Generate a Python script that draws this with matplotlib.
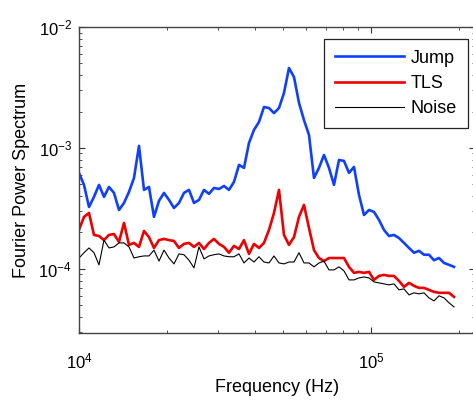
import numpy as np
import matplotlib
matplotlib.use("Agg")
import matplotlib.pyplot as plt
from matplotlib.ticker import LogLocator, FuncFormatter, NullFormatter

plt.rcParams['font.family'] = ['Liberation Sans', 'DejaVu Sans']
plt.rcParams['mathtext.fontset'] = 'custom'
plt.rcParams['mathtext.rm'] = 'Liberation Sans'
plt.rcParams['mathtext.default'] = 'regular'

# frequency (Hz)
freq = [10000, 10402, 10820, 11255, 11708, 12178, 12668, 13178, 13707, 14258,
        14831, 15428, 16048, 16693, 17365, 18063, 18789, 19545, 20331, 21148,
        21999, 22883, 23803, 24760, 25756, 26792, 27869, 28990, 30155, 31368,
        32629, 33941, 35306, 36726, 38203, 39739, 41337, 42999, 44728, 46527,
        48398, 50344, 52368, 54474, 56665, 58943, 61314, 63779, 66344, 69012,
        71787, 74674, 77677, 80800, 84049, 87429, 90945, 94602, 98405, 102362,
        106479, 110761, 115214, 119847, 124667, 129680, 134895, 140319, 145961, 151831,
        157936, 164287, 170893, 177828, 184979, 192418]

jump = [6.22e-4, 4.95e-4, 3.25e-4, 3.94e-4, 4.95e-4, 3.94e-4, 4.76e-4, 4.25e-4, 3.07e-4, 3.51e-4,
        4.33e-4, 5.65e-4, 1.04e-3, 4.50e-4, 4.76e-4, 2.69e-4, 3.65e-4, 4.25e-4, 3.72e-4, 3.19e-4,
        3.51e-4, 4.25e-4, 4.50e-4, 3.51e-4, 3.72e-4, 4.50e-4, 4.17e-4, 4.67e-4, 4.58e-4, 4.85e-4,
        4.50e-4, 5.24e-4, 7.24e-4, 6.84e-4, 1.10e-3, 1.41e-3, 1.64e-3, 2.18e-3, 2.14e-3, 1.94e-3,
        2.14e-3, 2.85e-3, 4.58e-3, 3.86e-3, 2.36e-3, 1.70e-3, 1.28e-3, 5.65e-4, 6.84e-4, 8.75e-4,
        6.84e-4, 4.95e-4, 7.96e-4, 7.81e-4, 6.22e-4, 6.97e-4, 4.09e-4, 2.79e-4, 3.07e-4, 2.96e-4,
        2.54e-4, 2.10e-4, 1.87e-4, 1.91e-4, 1.80e-4, 1.64e-4, 1.49e-4, 1.36e-4, 1.41e-4, 1.31e-4,
        1.31e-4, 1.18e-4, 1.23e-4, 1.12e-4, 1.08e-4, 1.04e-4]

tls = [2.10e-4, 2.69e-4, 2.90e-4, 1.91e-4, 1.87e-4, 1.73e-4, 1.91e-4, 1.94e-4, 1.67e-4, 2.40e-4,
       1.58e-4, 1.64e-4, 1.52e-4, 2.06e-4, 1.83e-4, 1.49e-4, 1.73e-4, 1.77e-4, 1.73e-4, 1.70e-4,
       1.49e-4, 1.61e-4, 1.64e-4, 1.52e-4, 1.64e-4, 1.46e-4, 1.64e-4, 1.77e-4, 1.61e-4, 1.52e-4,
       1.36e-4, 1.55e-4, 1.46e-4, 1.73e-4, 1.33e-4, 1.61e-4, 1.49e-4, 1.64e-4, 2.10e-4, 2.90e-4,
       4.50e-4, 1.91e-4, 1.58e-4, 1.83e-4, 2.69e-4, 3.38e-4, 2.18e-4, 1.43e-4, 1.23e-4, 1.16e-4,
       1.23e-4, 1.23e-4, 1.23e-4, 1.23e-4, 1.04e-4, 9.27e-5, 9.45e-5, 9.27e-5, 9.45e-5, 8.11e-5,
       8.75e-5, 8.92e-5, 8.75e-5, 8.75e-5, 7.96e-5, 7.10e-5, 7.66e-5, 7.24e-5, 6.97e-5, 6.97e-5,
       6.71e-5, 6.46e-5, 6.34e-5, 6.34e-5, 6.34e-5, 5.87e-5]

noise = [1.23e-4, 1.36e-4, 1.49e-4, 1.36e-4, 1.08e-4, 1.73e-4, 1.49e-4, 1.52e-4, 1.64e-4, 1.64e-4,
         1.52e-4, 1.23e-4, 1.26e-4, 1.28e-4, 1.28e-4, 1.43e-4, 1.16e-4, 1.43e-4, 1.23e-4, 1.10e-4,
         1.33e-4, 1.31e-4, 1.18e-4, 1.02e-4, 1.52e-4, 1.21e-4, 1.28e-4, 1.31e-4, 1.33e-4, 1.28e-4,
         1.26e-4, 1.26e-4, 1.33e-4, 1.12e-4, 1.23e-4, 1.14e-4, 1.26e-4, 1.14e-4, 1.12e-4, 1.28e-4,
         1.12e-4, 1.10e-4, 1.14e-4, 1.14e-4, 1.36e-4, 1.12e-4, 1.12e-4, 1.04e-4, 1.12e-4, 1.16e-4,
         9.81e-5, 9.81e-5, 1.04e-4, 9.63e-5, 8.11e-5, 8.11e-5, 8.42e-5, 8.58e-5, 8.42e-5, 7.81e-5,
         7.66e-5, 7.52e-5, 7.38e-5, 7.52e-5, 6.71e-5, 6.84e-5, 6.10e-5, 6.34e-5, 6.22e-5, 6.34e-5,
         5.76e-5, 5.44e-5, 5.99e-5, 5.76e-5, 5.24e-5, 4.85e-5]

fig = plt.figure(figsize=(4.73, 4.07), dpi=100)
ax = fig.add_axes([79/473, 1-333/407, 396/473, 306/407])

ax.plot(freq, jump, color='#1040ff', lw=1.9, label='Jump')
ax.plot(freq, tls, color='#ee0000', lw=1.9, label='TLS')
ax.plot(freq, noise, color='black', lw=0.8, label='Noise')

ax.set_xscale('log')
ax.set_yscale('log')
ax.set_xlim(1e4, 2.27e5)
ax.set_ylim(10**-4.53, 1e-2)

fmt = FuncFormatter(lambda v, p: '$10^{%d}$' % int(round(np.log10(v))))
ax.xaxis.set_major_locator(LogLocator(base=10))
ax.yaxis.set_major_locator(LogLocator(base=10))
ax.xaxis.set_major_formatter(fmt)
ax.yaxis.set_major_formatter(fmt)
ax.xaxis.set_minor_locator(LogLocator(base=10, subs=np.arange(2, 10)))
ax.yaxis.set_minor_locator(LogLocator(base=10, subs=np.arange(2, 10)))
ax.xaxis.set_minor_formatter(NullFormatter())
ax.yaxis.set_minor_formatter(NullFormatter())

ax.tick_params(which='both', direction='in', top=True, right=True, color='#333333')
ax.tick_params(which='major', length=4, width=0.8, labelsize=12)
ax.tick_params(which='minor', length=2.5, width=0.6)
ax.tick_params(axis='x', which='major', pad=13)
ax.tick_params(axis='y', which='major', pad=5)
for s in ax.spines.values():
    s.set_color('#444444')
    s.set_linewidth(1.0)

ax.set_xlabel('Frequency (Hz)', fontsize=13, labelpad=6)
ax.set_ylabel('Fourier Power Spectrum', fontsize=13, labelpad=6)

leg = ax.legend(loc='upper right', bbox_to_anchor=(0.982, 0.961), borderaxespad=0,
                fontsize=13, handlelength=3.8, handletextpad=0.4, labelspacing=0.45,
                borderpad=0.6, fancybox=False, framealpha=1, edgecolor='#222222')
leg.get_frame().set_linewidth(0.9)

plt.savefig('out.png', dpi=100)
